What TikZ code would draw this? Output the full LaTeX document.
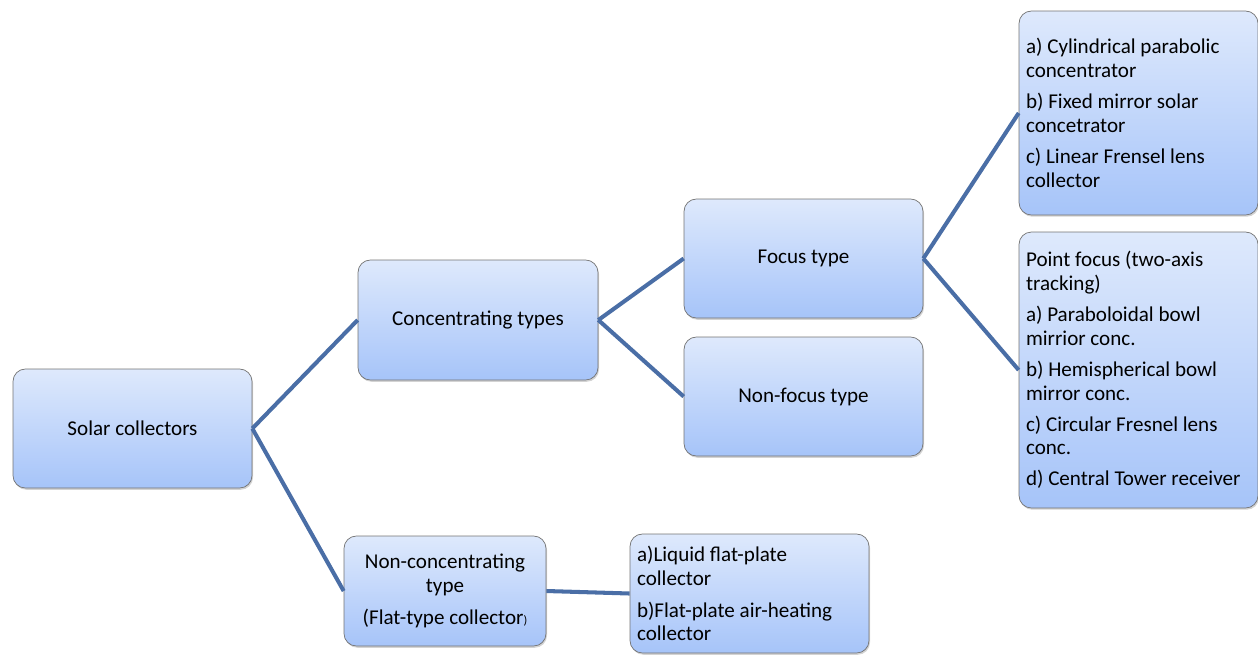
\documentclass[tikz,border=0pt]{standalone}
\usepackage{fontspec}
\setmainfont{Carlito}
\usepackage{tikz}
\usepackage{xcolor}
\usetikzlibrary{calc,shadows}
\definecolor{boxtop}{RGB}{222,233,252}
\definecolor{boxbot}{RGB}{166,196,249}
\definecolor{linkblue}{RGB}{74,110,166}

\begin{document}
\begin{tikzpicture}[x=0.02cm,y=-0.02cm]
        \useasboundingbox (0,0) rectangle (1258,654);
        \tikzstyle{every node}=[draw=black!55, rounded corners=7pt, top color=boxtop, bottom color=boxbot, drop shadow={shadow xshift=0.6pt, shadow yshift=-1pt, opacity=0.35}, font=\fontsize{12}{13.6}\selectfont, inner sep=0pt]
        \tikzstyle{link}=[draw=linkblue, line width=2.3pt]
        \tikzstyle{listbox}=[minimum width=4.78cm, align=flush left, text width=4.5cm]
        \node[minimum width=4.78cm, minimum height=2.38cm, align=center] (1) at (132.5,428.5) {Solar collectors};
        \node[minimum width=4.8cm, minimum height=2.4cm, align=center] (2) at (478,320) {Concentrating types};
        \node[minimum width=4.78cm, minimum height=2.38cm, align=center] (3) at (803.5,258.5) {Focus type};
        \node[minimum width=4.78cm, minimum height=2.38cm, align=center] (4) at (803.5,396.5) {Non-focus type};
        \node[minimum width=4.04cm, minimum height=2.2cm, align=center] (5) at (445,591) {Non-concentrating\\type\\[5pt](Flat-type collector{\scriptsize)}};

        \node[listbox, minimum height=4.08cm] (6) at (1138.5,113) {a) Cylindrical parabolic\\concentrator\\[4pt]b) Fixed mirror solar\\concetrator\\[4pt]c) Linear Frensel lens\\collector};
        \node[listbox, minimum height=5.52cm] (7) at (1138.5,370) {Point focus (two-axis\\tracking)\\[4pt]a) Paraboloidal bowl\\mirrior conc.\\[4pt]b) Hemispherical bowl\\mirror conc.\\[4pt]c) Circular Fresnel lens\\conc.\\[4pt]d) Central Tower receiver};
        \node[listbox, minimum height=2.38cm] (8) at (749.5,593.5) {a)Liquid flat-plate\\collector\\[4.5pt]b)Flat-plate air-heating\\collector};

        \draw[link] (1.east) to (2.west);
        \draw[link] (1.east) to (5.west);
        \draw[link] (2.east) to (3.west);
        \draw[link] (2.east) to (4.west);
        \draw[link] (3.east) to (6.west);
        \draw[link] (3.east) to (7.west);
        \draw[link] (5.east) to (8.west);
    \end{tikzpicture}
\end{document}
